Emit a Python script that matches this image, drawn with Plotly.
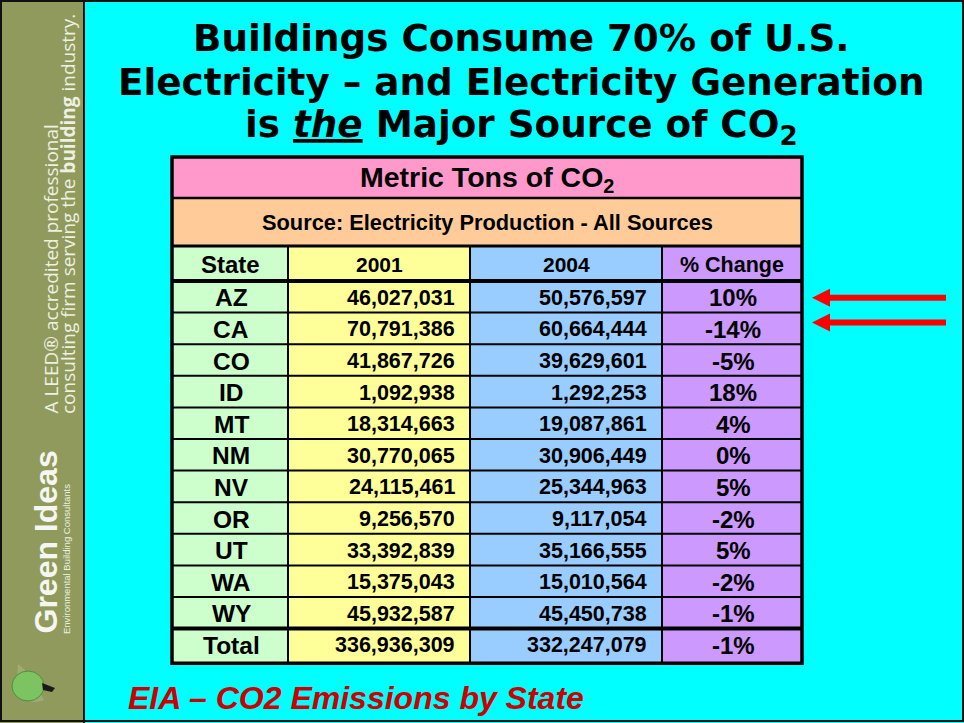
import plotly.graph_objects as go

# ---------------- data ----------------
title_lines = ["Buildings Consume 70% of U.S.",
               "Electricity – and Electricity Generation",
               "is <i><u>the</u></i> Major Source of CO<sub>2</sub>"]
table_title = "Metric Tons of CO<sub>2</sub>"
table_source = "Source: Electricity Production - All Sources"
col_headers = ["State", "2001", "2004", "% Change"]
states = ["AZ", "CA", "CO", "ID", "MT", "NM", "NV", "OR", "UT", "WA", "WY", "Total"]
v2001 = [46027031, 70791386, 41867726, 1092938, 18314663, 30770065,
         24115461, 9256570, 33392839, 15375043, 45932587, 336936309]
v2004 = [50576597, 60664444, 39629601, 1292253, 19087861, 30906449,
         25344963, 9117054, 35166555, 15010564, 45450738, 332247079]
pct_change = ["10%", "-14%", "-5%", "18%", "4%", "0%", "5%", "-2%", "5%", "-2%", "-1%", "-1%"]
highlighted = ["AZ", "CA"]
footer = "EIA – CO2 Emissions by State"
side_line1 = "A LEED® accredited professional"
side_line2 = "consulting firm serving the <b>building</b> industry."
brand = "Green Ideas"
brand_sub = "Environmental Building Consultants"

# ---------------- layout geometry ----------------
W, H = 964, 723
col_x = [172, 288, 470, 662, 802]
col_fill = ["#ccffcc", "#ffff99", "#99ccff", "#cc99ff"]
t_top, t_src, t_hdr, t_body = 157, 198, 246, 281
row_h = 31.6
n = len(states)
t_bottom = t_body + row_h * n + 3

ARIAL = "Arial, Liberation Sans, sans-serif"
fig = go.Figure()
shapes = []
ann = []

# slide background pieces
shapes.append(dict(type="rect", x0=0, x1=84, y0=0, y1=H, fillcolor="#8f9a5c", line_width=0, layer="below"))
shapes.append(dict(type="line", x0=84, x1=84, y0=0, y1=H, line=dict(color="#111", width=2)))
shapes.append(dict(type="rect", x0=1, x1=W - 1, y0=1, y1=H - 2, fillcolor="rgba(0,0,0,0)",
                   line=dict(color="#111", width=2)))

# title
for i, t in enumerate(title_lines):
    ann.append(dict(x=521, y=38 + 44 * i, text=f"<b>{t}</b>", showarrow=False,
                    font=dict(family="DejaVu Sans, Verdana, sans-serif", size=37.3, color="#000"),
                    xanchor="center", yanchor="middle"))

# table fills
shapes.append(dict(type="rect", x0=col_x[0], x1=col_x[-1], y0=t_top, y1=t_src,
                   fillcolor="#ff99cc", line_width=0, layer="below"))
shapes.append(dict(type="rect", x0=col_x[0], x1=col_x[-1], y0=t_src, y1=t_hdr,
                   fillcolor="#ffcc99", line_width=0, layer="below"))
for c in range(4):
    shapes.append(dict(type="rect", x0=col_x[c], x1=col_x[c + 1], y0=t_hdr, y1=t_bottom,
                       fillcolor=col_fill[c], line_width=0, layer="below"))

# table lines
def hline(y, w):
    shapes.append(dict(type="line", x0=col_x[0], x1=col_x[-1], y0=y, y1=y, line=dict(color="#000", width=w)))

hline(t_src, 2.5)
hline(t_hdr, 3)
hline(t_body, 4)
for i in range(1, n):
    hline(t_body + row_h * i, 4 if i == n - 1 else 2)
for c in range(1, 4):
    shapes.append(dict(type="line", x0=col_x[c], x1=col_x[c], y0=t_hdr, y1=t_bottom,
                       line=dict(color="#000", width=2)))
shapes.append(dict(type="rect", x0=col_x[0], x1=col_x[-1], y0=t_top, y1=t_bottom,
                   fillcolor="rgba(0,0,0,0)", line=dict(color="#000", width=3.5)))

# table texts
ann.append(dict(x=487, y=179, text=f"<b>{table_title}</b>", showarrow=False,
                font=dict(family=ARIAL, size=28.5, color="#000")))
ann.append(dict(x=487, y=222, text=f"<b>{table_source}</b>", showarrow=False,
                font=dict(family=ARIAL, size=21.8, color="#000")))
hdr_sizes = [24, 21, 21, 21.5]
for c, h in enumerate(col_headers):
    ann.append(dict(x=(col_x[c] + col_x[c + 1]) / 2, y=(t_hdr + t_body) / 2 + 1, text=f"<b>{h}</b>",
                    showarrow=False, font=dict(family=ARIAL, size=hdr_sizes[c], color="#000")))
for i, s in enumerate(states):
    yc = t_body + row_h * (i + 0.5) + 1
    ann.append(dict(x=231, y=yc, text=f"<b>{s}</b>", showarrow=False,
                    font=dict(family=ARIAL, size=24.5, color="#000")))
    ann.append(dict(x=col_x[2] - 13, y=yc, text=f"<b>{v2001[i]:,}</b>", showarrow=False, xanchor="right",
                    font=dict(family=ARIAL, size=21.5, color="#000")))
    ann.append(dict(x=col_x[3] - 13, y=yc, text=f"<b>{v2004[i]:,}</b>", showarrow=False, xanchor="right",
                    font=dict(family=ARIAL, size=21.5, color="#000")))
    ann.append(dict(x=733, y=yc, text=f"<b>{pct_change[i]}</b>", showarrow=False,
                    font=dict(family=ARIAL, size=24, color="#000")))

# red arrows for highlighted rows
for k, s in enumerate(highlighted):
    i = states.index(s)
    yc = t_body + row_h * (i + 0.5) + (1 if k == 0 else -6)
    shapes.append(dict(type="rect", x0=828, x1=946, y0=yc - 3, y1=yc + 3, fillcolor="#ff0000", line_width=0))
    shapes.append(dict(type="path", path=f"M 812 {yc} L 830 {yc - 9} L 830 {yc + 9} Z",
                       fillcolor="#ff0000", line_width=0))

# footer
ann.append(dict(x=126, y=698, text=f"<b><i>{footer}</i></b>", showarrow=False, xanchor="left",
                font=dict(family=ARIAL, size=32, color="#cc0000")))

# sidebar texts
ann.append(dict(x=50, y=416, text=side_line1, showarrow=False, textangle=-90,
                xanchor="center", yanchor="bottom",
                font=dict(family="Open Sans, sans-serif", size=19, color="#eef0e0")))
ann.append(dict(x=68, y=416, text=side_line2, showarrow=False, textangle=-90,
                xanchor="center", yanchor="bottom",
                font=dict(family="Open Sans, sans-serif", size=19, color="#eef0e0")))
ann.append(dict(x=45, y=636, text=f"<b>{brand}</b>", showarrow=False, textangle=-90,
                xanchor="center", yanchor="bottom",
                font=dict(family=ARIAL, size=32, color="#f6f6f0")))
ann.append(dict(x=66, y=636, text=brand_sub, showarrow=False, textangle=-90,
                xanchor="center", yanchor="bottom",
                font=dict(family=ARIAL, size=9.5, color="#eef0e0")))
# pear logo
shapes.append(dict(type="path", path="M 18 664 Q 30 672 44 700 Q 30 706 16 694 Z",
                   fillcolor="#a8b880", line_width=0, opacity=0.6))
shapes.append(dict(type="circle", x0=12, x1=44, y0=671, y1=701, fillcolor="#7cc462",
                   line=dict(color="#4f8f38", width=1)))
shapes.append(dict(type="path", path="M 42 683 L 55 688 L 52 692 L 43 690 Z", fillcolor="#1a1a1a", line_width=0))

fig.update_layout(
    width=W, height=H, margin=dict(l=0, r=0, t=0, b=0),
    paper_bgcolor="#00ffff", plot_bgcolor="#00ffff",
    xaxis=dict(range=[0, W], visible=False, fixedrange=True),
    yaxis=dict(range=[H, 0], visible=False, fixedrange=True),
    shapes=shapes, annotations=ann, showlegend=False,
)
fig.write_html("out.html", config={"displayModeBar": False},
               post_script="document.body.style.margin='0px';")
